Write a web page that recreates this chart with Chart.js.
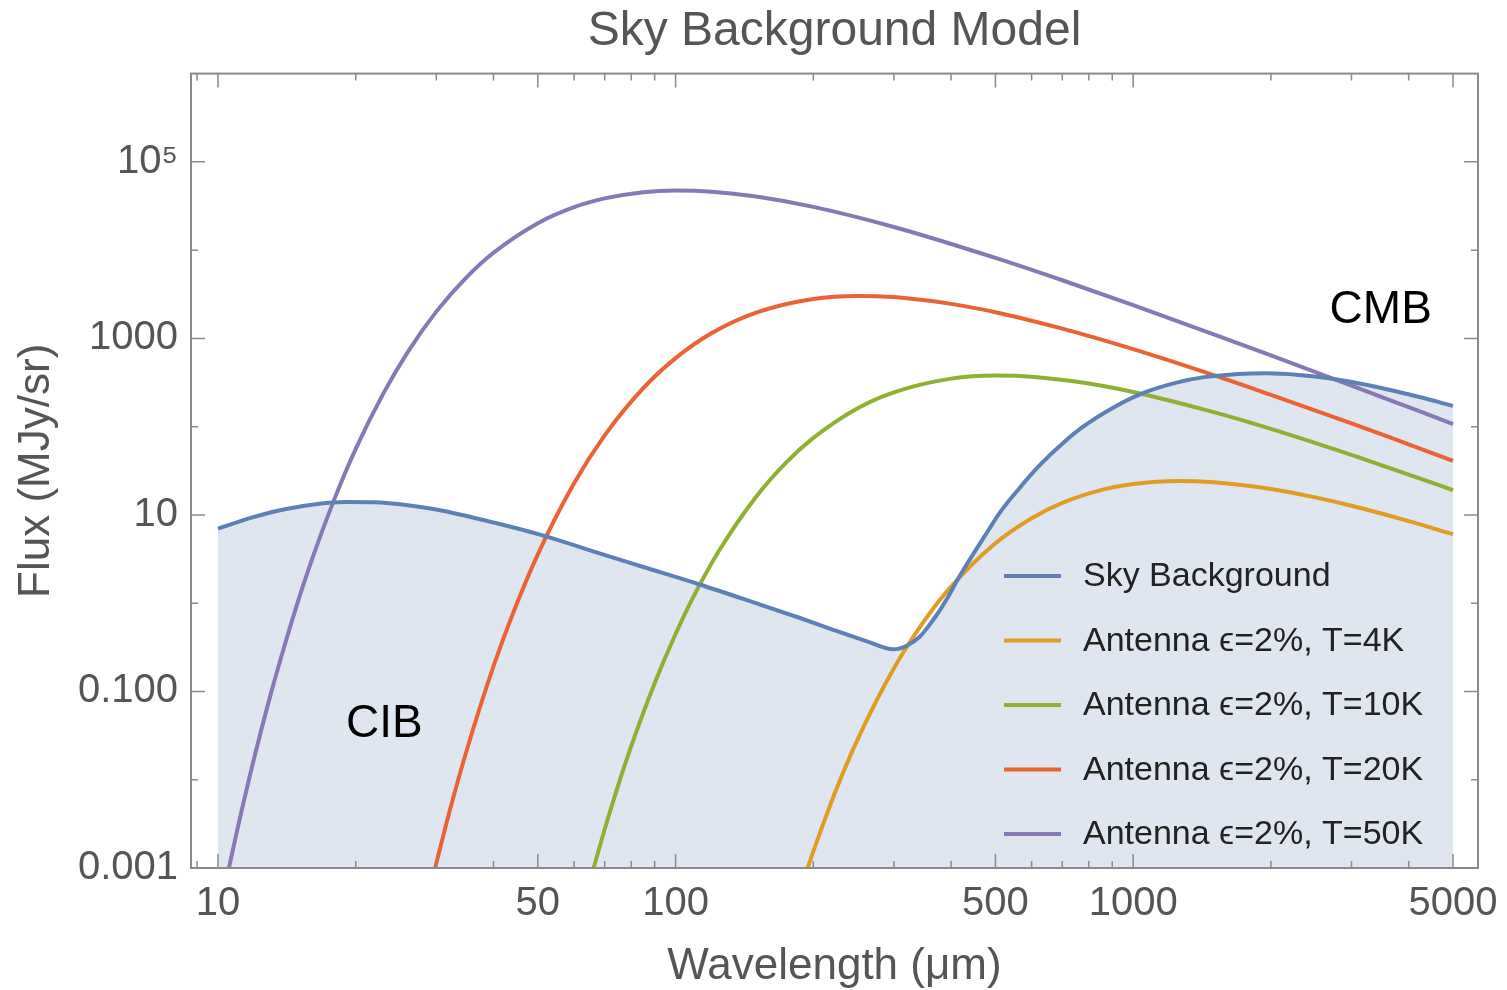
<!DOCTYPE html>
<html>
<head>
<meta charset="utf-8">
<title>Sky Background Model</title>
<script src="https://cdn.jsdelivr.net/npm/chart.js@4.4.1/dist/chart.umd.min.js"></script>
<style>
  html, body { margin: 0; padding: 0; background: #fff; }
  #wrap { width: 1507px; height: 990px; }
</style>
</head>
<body>
<div id="wrap"><canvas id="myChart"></canvas></div>
<script>
const FONT = "'Liberation Sans', Arial, sans-serif";
const GREY = '#555555';
const FRAME = '#8a8a8a';

// wavelength in microns, flux in MJy/sr
const skyWavelength = [10, 12, 14, 16.5, 19, 22, 26, 30, 40, 51, 68.5, 85, 112, 150, 187, 221, 262, 299, 320, 342, 360, 378, 393, 412, 430, 455, 480, 509, 560, 625, 700, 769, 900, 1050, 1250, 1429, 1700, 1950, 2300, 2655, 3100, 3620, 4200, 5000];
const skyFlux = [7.0, 9.5, 11.6, 13.3, 14.0, 13.9, 12.9, 11.5, 8.2, 5.9, 3.64, 2.57, 1.65, 1.0, 0.68, 0.50, 0.37, 0.30, 0.33, 0.42, 0.58, 0.83, 1.15, 1.8, 2.6, 4.15, 6.4, 10.3, 19.2, 36.6, 64, 96, 162, 240, 318, 364, 396, 402, 386, 355, 310, 262, 218, 172];

const t4Wavelength = [194, 200, 225, 250, 300, 350, 400, 500, 600, 700, 850, 1000, 1250, 1500, 2000, 2500, 3000, 4000, 5000];
const t4Flux = [0.00097, 0.00154, 0.008, 0.0287, 0.183, 0.638, 1.54, 4.78, 9.19, 13.7, 19.1, 22.4, 24.3, 23.5, 19.7, 15.8, 12.7, 8.52, 6.04];

const t10Wavelength = [66, 70, 75, 80, 90, 100, 110, 125, 150, 175, 200, 250, 300, 400, 500, 600, 800, 1000, 1500, 2000, 3000, 4000, 5000];
const t10Flux = [0.00094, 0.00275, 0.0088, 0.024, 0.124, 0.448, 1.25, 4.08, 16.1, 39.9, 74.6, 162, 245, 350, 379, 368, 308, 247, 146, 94.3, 47.8, 28.7, 19.1];

const t20Wavelength = [29.7, 32, 35, 40, 45, 50, 60, 70, 85, 100, 120, 150, 200, 250, 300, 400, 500, 700, 1000, 1500, 2000, 3000, 4000, 5000];
const t20Flux = [0.00092, 0.0042, 0.022, 0.192, 0.99, 3.58, 22.8, 79.8, 273, 597, 1150, 1960, 2800, 3030, 2940, 2460, 1980, 1290, 755, 383, 229, 109, 63, 41.1];

const t50Wavelength = [10.5, 11, 12, 13, 14, 15, 16, 18, 20, 23, 26, 30, 35, 40, 50, 60, 70, 85, 100, 120, 150, 200, 300, 500, 700, 1000, 1500, 2000, 3000, 4000, 5000];
const t50Flux = [0.00086, 0.0026, 0.0177, 0.088, 0.34, 1.1, 3.0, 15.5, 56, 240, 705, 2010, 4980, 9330, 20200, 30700, 38600, 45400, 47400, 46000, 40500, 30900, 18300, 8170, 4560, 2380, 1110, 642, 292, 166, 107];

const seriesLabels = ['Sky Background', 'Antenna ϵ=2%, T=4K', 'Antenna ϵ=2%, T=10K', 'Antenna ϵ=2%, T=20K', 'Antenna ϵ=2%, T=50K'];
const seriesColors = ['#5e81b5', '#e19c24', '#8fb032', '#eb6235', '#8778b6'];

const xTickValues = [10, 50, 100, 500, 1000, 5000];
const xTickLabels = ['10', '50', '100', '500', '1000', '5000'];
const xMinorTicks = [9, 20, 30, 40, 60, 70, 80, 90, 200, 300, 400, 600, 700, 800, 900, 2000, 3000, 4000];
const yTickValues = [0.001, 0.1, 10, 1000, 100000];
const yTickLabels = ['0.001', '0.100', '10', '1000', '10⁵'];
const yMinorTicks = [0.01, 1, 100, 10000];

// region labels, placed in data coordinates
const regionNotes = [
  { text: 'CMB', x: 3475, y: 2100 },
  { text: 'CIB', x: 23.1, y: 0.043 },
];

function toPoints(xs, ys) {
  return xs.map((x, i) => ({ x: x, y: ys[i] }));
}

const seriesPoints = [
  toPoints(skyWavelength, skyFlux),
  toPoints(t4Wavelength, t4Flux),
  toPoints(t10Wavelength, t10Flux),
  toPoints(t20Wavelength, t20Flux),
  toPoints(t50Wavelength, t50Flux),
];

// frame with inward ticks on all four sides
const framePlugin = {
  id: 'frame',
  afterDatasetsDraw(chart) {
    const { ctx, chartArea: a, scales } = chart;
    ctx.save();
    ctx.strokeStyle = FRAME;
    ctx.lineWidth = 2;
    ctx.strokeRect(a.left, a.top, a.right - a.left, a.bottom - a.top);
    ctx.lineWidth = 1.5;
    ctx.beginPath();
    const xTick = (v, len) => {
      const px = scales.x.getPixelForValue(v);
      ctx.moveTo(px, a.bottom); ctx.lineTo(px, a.bottom - len);
      ctx.moveTo(px, a.top); ctx.lineTo(px, a.top + len);
    };
    const yTick = (v, len) => {
      const py = scales.y.getPixelForValue(v);
      ctx.moveTo(a.left, py); ctx.lineTo(a.left + len, py);
      ctx.moveTo(a.right, py); ctx.lineTo(a.right - len, py);
    };
    xTickValues.forEach((v) => xTick(v, 14));
    xMinorTicks.forEach((v) => xTick(v, 7));
    yTickValues.forEach((v) => yTick(v, 14));
    yMinorTicks.forEach((v) => yTick(v, 7));
    ctx.stroke();
    ctx.restore();
  },
};

const notesPlugin = {
  id: 'notes',
  afterDraw(chart) {
    const { ctx, chartArea: a, scales } = chart;
    ctx.save();
    ctx.font = '46px ' + FONT;
    ctx.fillStyle = '#000';
    ctx.textAlign = 'center';
    ctx.textBaseline = 'middle';
    regionNotes.forEach((n) => {
      ctx.fillText(n.text, scales.x.getPixelForValue(n.x), scales.y.getPixelForValue(n.y));
    });

    // legend box in the lower right of the plot
    const left = a.right - 474;
    const top = a.bottom - 292;
    const step = 64.5;
    ctx.font = '34px ' + FONT;
    ctx.textAlign = 'left';
    ctx.fillStyle = '#222';
    chart.data.datasets.forEach((ds, i) => {
      const y = top + i * step;
      ctx.strokeStyle = ds.borderColor;
      ctx.lineWidth = 4;
      ctx.beginPath();
      ctx.moveTo(left, y);
      ctx.lineTo(left + 57, y);
      ctx.stroke();
      ctx.fillText(ds.label, left + 79, y + 1);
    });
    ctx.restore();
  },
};

const ctx = document.getElementById('myChart');

new Chart(ctx, {
  type: 'line',
  data: {
    datasets: seriesPoints.map((pts, i) => ({
      label: seriesLabels[i],
      data: pts,
      borderColor: seriesColors[i],
      backgroundColor: i === 0 ? 'rgba(94, 129, 181, 0.2)' : seriesColors[i],
      fill: i === 0 ? 'start' : false,
      borderWidth: 4,
      pointRadius: 0,
      cubicInterpolationMode: 'monotone',
    })),
  },
  options: {
    responsive: true,
    maintainAspectRatio: false,
    animation: false,
    layout: { padding: { left: 0, right: 29, top: 0, bottom: 0 } },
    plugins: {
      legend: { display: false },
      tooltip: { enabled: false },
      filler: { drawTime: 'beforeDatasetsDraw' },
      title: {
        display: true,
        fullSize: false,
        text: 'Sky Background Model',
        color: GREY,
        font: { family: FONT, size: 48, weight: 'normal' },
        padding: { top: 3, bottom: 13 },
      },
    },
    scales: {
      x: {
        type: 'logarithmic',
        min: 8.73,
        max: 5670,
        afterBuildTicks: (s) => { s.ticks = xTickValues.map((v) => ({ value: v })); },
        afterFit: (s) => { s.height = 122; s.paddingLeft = 0; s.paddingRight = 0; },
        grid: { display: false },
        border: { display: false },
        ticks: {
          autoSkip: false,
          maxRotation: 0,
          padding: 4,
          color: GREY,
          font: { family: FONT, size: 40 },
          callback: (v, i) => xTickLabels[i],
        },
        title: {
          display: true,
          text: 'Wavelength (μm)',
          color: GREY,
          font: { family: FONT, size: 44, lineHeight: 1 },
          padding: { top: 0, bottom: 1 },
        },
      },
      y: {
        type: 'logarithmic',
        min: 0.001,
        max: 1000000,
        afterBuildTicks: (s) => { s.ticks = yTickValues.map((v) => ({ value: v })); },
        afterFit: (s) => { s.width = 191; s.paddingTop = 0; s.paddingBottom = 0; },
        grid: { display: false },
        border: { display: false },
        ticks: {
          autoSkip: false,
          padding: 5,
          color: GREY,
          font: { family: FONT, size: 40 },
          callback: (v, i) => yTickLabels[i],
        },
        title: {
          display: true,
          text: 'Flux (MJy/sr)',
          color: GREY,
          font: { family: FONT, size: 44, lineHeight: 1 },
          padding: { top: 15, bottom: 0 },
        },
      },
    },
  },
  plugins: [framePlugin, notesPlugin],
});
</script>
</body>
</html>
